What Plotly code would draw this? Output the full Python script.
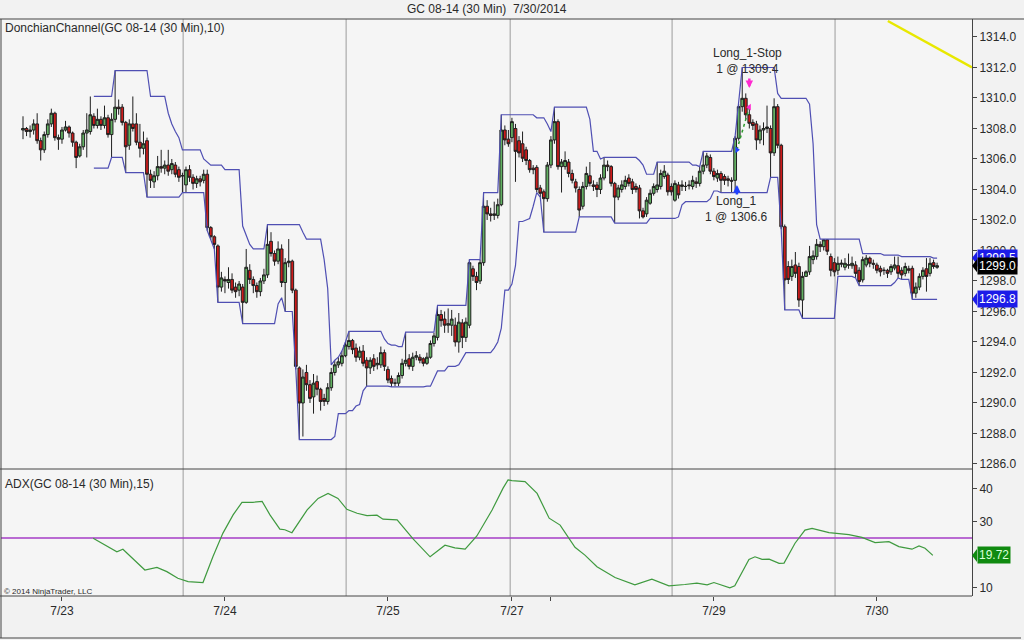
import plotly.graph_objects as go
import pandas as pd

chart_title = "GC 08-14 (30 Min)&nbsp; 7/30/2014"
price_panel_label = "DonchianChannel(GC 08-14 (30 Min),10)"
adx_panel_label = "ADX(GC 08-14 (30 Min),15)"
copyright_text = "© 2014 NinjaTrader, LLC"

# ---- 30-minute bars (index 0 = 7/22 18:30) ----
opens = [
    1307.9, 1308.0, 1307.8, 1307.9, 1308.3, 1307.2, 1306.6, 1307.6, 1308.3, 1309.0,
    1307.4, 1307.3, 1307.9, 1308.1, 1307.7, 1307.1, 1306.2, 1306.8, 1307.7, 1307.8,
    1308.8, 1308.2, 1308.6, 1308.2, 1308.7, 1307.6, 1308.6, 1309.4, 1309.4, 1308.4,
    1306.9, 1308.3, 1308.3, 1307.1, 1306.7, 1307.2, 1305.0, 1304.5, 1304.9, 1305.5,
    1305.4, 1305.6, 1305.3, 1305.6, 1305.3, 1304.9, 1304.3, 1305.3, 1304.8, 1304.4,
    1304.7, 1304.6, 1305.0, 1301.5, 1300.9, 1300.3, 1297.6, 1298.1, 1297.9, 1298.1,
    1297.6, 1297.4, 1297.6, 1296.6, 1298.7, 1298.1, 1297.7, 1297.3, 1298.0, 1298.4,
    1300.6, 1299.8, 1299.3, 1300.1, 1297.9, 1299.2, 1299.3, 1297.4, 1292.3, 1290.0,
    1292.0, 1291.2, 1290.4, 1291.4, 1290.9, 1290.3, 1290.1, 1291.0, 1292.0, 1292.5,
    1292.6, 1293.1, 1293.7, 1294.1, 1293.6, 1293.0, 1293.4, 1292.8, 1292.3, 1292.9,
    1292.5, 1292.5, 1293.3, 1292.2, 1291.6, 1291.3, 1291.3, 1291.8, 1292.6, 1292.9,
    1292.4, 1293.0, 1293.0, 1292.9, 1292.6, 1293.0, 1293.9, 1294.3, 1295.8, 1295.5,
    1295.1, 1295.1, 1295.1, 1294.0, 1295.25, 1294.3, 1295.1, 1298.8, 1298.3, 1298.0,
    1299.2, 1302.9, 1302.4, 1302.3, 1302.3, 1303.0, 1307.9, 1307.3, 1307.4, 1308.0,
    1307.2, 1307.0, 1306.6, 1305.9, 1305.4, 1305.45, 1304.1, 1303.85, 1303.4, 1305.6,
    1307.25, 1308.45, 1305.5, 1305.5, 1305.8, 1305.05, 1304.5, 1304.0, 1302.9, 1304.2,
    1304.9, 1304.3, 1304.3, 1304.0, 1304.75, 1305.6, 1305.5, 1304.4, 1303.5, 1304.0,
    1304.2, 1304.75, 1304.5, 1304.2, 1304.1, 1302.6, 1302.4, 1303.1, 1303.75, 1304.0,
    1304.2, 1304.85, 1304.95, 1304.2, 1303.3, 1304.3, 1304.2, 1304.2, 1304.3, 1304.2,
    1304.5, 1304.4, 1305.2, 1305.6, 1306.1, 1305.2, 1304.75, 1305.05, 1304.85, 1304.7,
    1304.6, 1304.6, 1307.36, 1309.43, 1309.98, 1308.9, 1308.4, 1308.3, 1307.25, 1307.9,
    1308.0, 1308.0, 1306.4, 1309.43, 1306.9, 1301.56, 1298.95, 1298.3, 1299.05, 1298.95,
    1296.75, 1298.3, 1298.6, 1299.4, 1299.6, 1300.4, 1300.25, 1300.7, 1299.6, 1299.2,
    1298.7, 1299.1, 1298.9, 1299.05, 1299.0, 1299.05, 1298.7, 1298.07, 1299.05, 1299.5,
    1299.16, 1299.05, 1298.83, 1298.7, 1298.7, 1298.6, 1298.85, 1299.0, 1298.7, 1298.5,
    1298.8, 1298.83, 1297.2, 1297.6, 1298.3, 1298.8, 1298.5, 1299.2, 1298.9,
]
highs = [
    1308.8, 1308.1, 1308.2, 1308.6, 1309.0, 1307.4, 1307.8, 1308.6, 1309.3, 1309.1,
    1307.6, 1308.1, 1308.5, 1308.2, 1307.8, 1307.2, 1307.0, 1307.9, 1309.0, 1310.1,
    1309.0, 1309.3, 1308.8, 1309.5, 1308.9, 1309.0, 1311.8, 1309.9, 1309.6, 1308.5,
    1308.6, 1310.1, 1309.0, 1308.3, 1307.8, 1307.4, 1305.3, 1305.2, 1306.2, 1306.6,
    1305.9, 1306.6, 1306.0, 1305.8, 1305.5, 1305.1, 1305.5, 1305.6, 1305.0, 1304.9,
    1304.9, 1305.3, 1305.3, 1301.6, 1301.0, 1300.4, 1298.6, 1298.3, 1298.9, 1298.5,
    1297.9, 1298.0, 1297.8, 1300.1, 1299.1, 1298.3, 1297.9, 1298.2, 1298.8, 1301.7,
    1301.2, 1300.0, 1300.6, 1300.4, 1299.5, 1300.75, 1299.4, 1297.5, 1292.4, 1292.2,
    1292.5, 1291.5, 1291.9, 1291.8, 1291.0, 1290.6, 1291.3, 1292.3, 1292.8, 1293.0,
    1293.4, 1294.0, 1294.7, 1294.2, 1293.9, 1293.7, 1293.8, 1293.0, 1293.0, 1293.2,
    1293.0, 1293.7, 1293.5, 1292.4, 1291.8, 1291.6, 1292.0, 1292.9, 1294.65, 1293.2,
    1293.3, 1293.4, 1293.2, 1293.0, 1293.3, 1294.1, 1294.6, 1296.4, 1296.1, 1296.0,
    1296.2, 1296.1, 1295.6, 1295.9, 1295.5, 1295.6, 1299.4, 1299.0, 1298.6, 1299.4,
    1303.8, 1303.3, 1302.8, 1303.2, 1303.4, 1308.9, 1308.2, 1307.9, 1308.7, 1308.3,
    1307.5, 1307.8, 1306.8, 1306.0, 1305.6, 1305.6, 1304.3, 1304.0, 1305.8, 1307.5,
    1309.4, 1308.6, 1306.0, 1306.5, 1306.0, 1305.3, 1304.7, 1304.2, 1304.5, 1305.5,
    1305.8, 1304.6, 1304.5, 1305.0, 1306.1, 1305.9, 1305.6, 1304.5, 1304.3, 1304.6,
    1304.9, 1305.0, 1304.7, 1304.4, 1304.3, 1302.8, 1303.5, 1304.0, 1304.4, 1305.8,
    1305.3, 1305.6, 1305.1, 1304.4, 1304.6, 1304.5, 1304.6, 1304.5, 1304.6, 1304.9,
    1304.8, 1305.5, 1306.5, 1306.4, 1306.3, 1305.4, 1305.3, 1305.2, 1305.0, 1304.9,
    1304.8, 1307.5, 1309.6, 1312.0, 1310.3, 1309.5, 1308.6, 1308.5, 1308.2, 1308.4,
    1309.5, 1308.2, 1309.98, 1309.6, 1307.0, 1301.7, 1299.3, 1299.4, 1299.9, 1299.2,
    1298.6, 1298.7, 1300.3, 1300.0, 1300.75, 1300.6, 1300.75, 1300.75, 1299.8, 1299.5,
    1299.6, 1299.4, 1299.5, 1299.8, 1299.6, 1299.3, 1298.9, 1299.6, 1299.7, 1299.6,
    1299.4, 1299.2, 1299.0, 1298.9, 1298.8, 1299.1, 1299.6, 1299.6, 1298.9, 1299.2,
    1299.0, 1299.0, 1297.9, 1298.5, 1298.9, 1299.5, 1299.5, 1299.4, 1299.2,
]
lows = [
    1307.3, 1307.5, 1307.4, 1307.6, 1307.0, 1305.9, 1306.4, 1307.4, 1308.1, 1307.2,
    1306.6, 1307.0, 1307.8, 1307.4, 1306.8, 1305.4, 1306.1, 1306.6, 1306.1, 1307.6,
    1308.0, 1308.0, 1307.9, 1308.0, 1307.4, 1306.1, 1308.4, 1308.9, 1308.2, 1305.1,
    1306.6, 1307.8, 1306.9, 1306.1, 1306.3, 1303.5, 1304.1, 1304.1, 1304.6, 1305.1,
    1305.0, 1304.9, 1305.0, 1304.8, 1304.5, 1303.8, 1303.8, 1304.5, 1304.0, 1304.1,
    1304.2, 1304.4, 1301.3, 1300.7, 1300.1, 1296.6, 1297.3, 1297.2, 1297.5, 1297.2,
    1296.9, 1297.0, 1295.2, 1296.5, 1297.8, 1297.2, 1296.9, 1297.0, 1297.8, 1298.2,
    1299.6, 1299.0, 1299.1, 1297.6, 1296.0, 1298.9, 1297.2, 1292.2, 1287.6, 1287.8,
    1290.8, 1290.0, 1289.3, 1290.5, 1289.5, 1289.8, 1289.9, 1290.8, 1291.8, 1292.3,
    1292.4, 1293.0, 1293.5, 1293.2, 1292.7, 1292.8, 1292.4, 1291.1, 1291.9, 1292.1,
    1292.2, 1292.3, 1292.1, 1291.3, 1291.05, 1291.1, 1291.1, 1291.6, 1292.4, 1292.2,
    1292.1, 1292.8, 1292.6, 1292.4, 1292.5, 1292.9, 1293.7, 1294.1, 1295.0, 1294.6,
    1294.6, 1294.4, 1293.7, 1293.3, 1293.6, 1294.0, 1294.9, 1298.0, 1297.4, 1297.8,
    1299.0, 1302.0, 1301.9, 1302.0, 1302.1, 1302.9, 1306.9, 1306.8, 1307.1, 1304.5,
    1306.1, 1305.8, 1305.6, 1305.1, 1305.0, 1303.8, 1303.5, 1301.2, 1303.2, 1305.4,
    1307.0, 1305.3, 1303.8, 1305.3, 1304.8, 1304.4, 1303.8, 1302.2, 1302.7, 1304.0,
    1304.2, 1303.9, 1303.5, 1303.7, 1304.6, 1305.2, 1304.2, 1301.8, 1303.3, 1303.8,
    1304.0, 1304.2, 1303.7, 1303.8, 1302.1, 1302.1, 1302.2, 1303.0, 1303.6, 1303.8,
    1304.0, 1304.7, 1303.6, 1303.6, 1303.2, 1303.4, 1303.9, 1303.9, 1304.0, 1304.0,
    1304.1, 1304.2, 1305.0, 1305.4, 1305.0, 1304.6, 1304.5, 1303.8, 1304.3, 1304.2,
    1303.8, 1303.8, 1307.2, 1309.1, 1308.6, 1308.0, 1307.9, 1306.6, 1307.0, 1306.9,
    1307.7, 1304.8, 1306.2, 1306.7, 1301.4, 1296.1, 1297.8, 1298.0, 1298.2, 1296.3,
    1295.55, 1298.3, 1298.4, 1299.1, 1299.4, 1299.9, 1300.0, 1299.7, 1298.3, 1298.3,
    1298.4, 1298.9, 1298.7, 1298.8, 1298.8, 1298.2, 1297.7, 1297.9, 1298.9, 1298.9,
    1298.8, 1298.5, 1298.3, 1298.4, 1298.2, 1298.4, 1298.7, 1298.2, 1298.1, 1298.3,
    1298.5, 1296.8, 1296.9, 1297.4, 1298.1, 1297.3, 1298.3, 1298.8, 1298.8,
]
closes = [
    1308.0, 1307.8, 1307.9, 1308.3, 1307.2, 1306.6, 1307.6, 1308.3, 1309.0, 1307.4,
    1307.3, 1307.9, 1308.1, 1307.7, 1307.1, 1306.1, 1306.8, 1307.7, 1307.9, 1308.9,
    1308.2, 1308.6, 1308.2, 1308.7, 1307.6, 1308.6, 1309.4, 1309.3, 1308.4, 1306.8,
    1308.3, 1308.0, 1307.1, 1306.7, 1307.0, 1305.0, 1304.6, 1304.9, 1305.5, 1305.4,
    1305.6, 1305.2, 1305.7, 1305.0, 1304.8, 1304.9, 1305.3, 1304.8, 1304.4, 1304.7,
    1304.5, 1305.0, 1301.5, 1300.9, 1300.4, 1297.6, 1298.2, 1298.0, 1298.1, 1297.4,
    1297.3, 1297.8, 1296.6, 1298.9, 1298.1, 1297.7, 1297.3, 1298.0, 1298.4, 1300.4,
    1299.8, 1299.3, 1300.1, 1297.9, 1299.2, 1299.3, 1297.4, 1292.4, 1290.0, 1291.7,
    1291.2, 1290.3, 1291.3, 1290.9, 1290.1, 1290.1, 1291.0, 1292.0, 1292.5, 1292.7,
    1293.1, 1293.8, 1294.1, 1293.5, 1293.0, 1293.4, 1292.6, 1292.3, 1292.8, 1292.4,
    1292.6, 1293.3, 1292.4, 1291.5, 1291.3, 1291.3, 1291.8, 1292.6, 1292.8, 1292.4,
    1293.0, 1293.1, 1292.8, 1292.6, 1293.0, 1293.9, 1294.4, 1295.8, 1295.4, 1295.1,
    1295.2, 1295.5, 1294.0, 1295.3, 1294.3, 1295.3, 1299.2, 1298.3, 1297.9, 1299.2,
    1302.9, 1302.4, 1302.3, 1302.4, 1303.0, 1307.9, 1307.25, 1307.0, 1308.45, 1306.5,
    1306.4, 1306.05, 1305.9, 1305.3, 1305.3, 1304.0, 1303.75, 1303.4, 1305.6, 1307.25,
    1308.45, 1305.5, 1305.8, 1305.9, 1305.05, 1304.6, 1304.1, 1302.65, 1304.2, 1305.05,
    1304.4, 1304.2, 1304.0, 1304.75, 1305.6, 1305.5, 1304.4, 1303.5, 1304.1, 1304.3,
    1304.6, 1304.4, 1304.0, 1304.0, 1302.6, 1302.2, 1303.3, 1303.75, 1304.2, 1304.3,
    1305.05, 1305.2, 1303.85, 1303.85, 1304.4, 1303.65, 1304.3, 1304.2, 1304.25, 1304.6,
    1304.4, 1305.2, 1305.6, 1306.2, 1305.2, 1304.85, 1305.05, 1304.6, 1304.6, 1304.6,
    1304.55, 1307.36, 1309.43, 1309.98, 1308.9, 1308.34, 1308.2, 1307.25, 1307.9, 1308.0,
    1308.1, 1306.4, 1309.43, 1306.9, 1301.56, 1298.07, 1298.1, 1298.95, 1298.5, 1296.75,
    1298.3, 1298.6, 1299.6, 1299.65, 1300.4, 1300.25, 1300.7, 1299.95, 1298.7, 1298.6,
    1299.16, 1299.16, 1299.16, 1299.05, 1299.16, 1298.5, 1297.96, 1299.4, 1299.5, 1299.16,
    1299.1, 1298.7, 1298.6, 1298.7, 1298.5, 1298.95, 1299.05, 1298.5, 1298.4, 1298.95,
    1298.7, 1297.2, 1297.6, 1298.3, 1298.7, 1298.3, 1299.16, 1298.95, 1299.0,
]

# ---- ADX(15) line, digitised (bar index, value) ----
adx_bars = [19.8, 23.7, 26.5, 28.2, 31.0, 34.4, 37.8, 40.6, 43.7, 46.6, 50.8, 53.6, 56.4,
            59.3, 61.8, 64.9, 67.5, 69.7, 72.5, 73.9, 75.9, 80.2, 83.3, 86.1, 88.9, 91.4,
            94.3, 97.1, 99.9, 101.6, 105.6, 110.1, 114.9, 119.1, 121.9, 124.8, 128.1, 132.4,
            135.5, 136.9, 138.0, 141.7, 145.1, 148.5, 151.6, 155.8, 158.6, 162.0, 167.1,
            172.7, 177.5, 182.3, 186.8, 190.2, 193.1, 195.0, 199.5, 200.9, 204.9, 206.6,
            208.6, 210.6, 213.4, 214.8, 217.9, 220.7, 222.7, 227.5, 233.1, 236.8, 240.5,
            244.4, 247.2, 250.9, 252.9, 254.6, 256.8]
adx_values = [24.9, 22.6, 20.8, 21.6, 18.8, 15.3, 16.1, 14.8, 12.8, 11.8, 11.5, 19.3, 26.4,
              32.0, 35.8, 35.8, 36.1, 32.0, 27.7, 27.5, 26.6, 33.5, 37.0, 38.5, 37.0, 33.7,
              32.5, 31.8, 31.9, 30.7, 30.5, 24.7, 19.3, 22.8, 22.0, 21.6, 25.6, 33.5,
              40.1, 42.6, 42.4, 42.1, 38.5, 31.0, 28.9, 22.2, 19.8, 16.3, 13.0,
              10.8, 12.5, 10.5, 10.9, 11.3, 10.8, 11.5, 9.9, 10.5, 18.5, 19.3,
              18.5, 18.6, 17.3, 17.4, 23.4, 27.4, 27.9, 26.6, 26.0, 25.2, 23.6,
              23.9, 22.4, 21.6, 22.6, 21.9, 19.72]
adx_threshold = 25

tick_bars = [11, 57, 103, 138, 149, 195, 241]
tick_labels = ["7/23", "7/24", "7/25", "7/27", "", "7/29", "7/30"]
session_break_bars = [45.2, 91.2, 137.5, 183.2, 229.2]
price_ticks = list(range(1286, 1316, 2))
adx_ticks = [10, 30, 40]

trade_bars = [201.5, 205.0]
trade_prices = [1306.6, 1309.4]
trade_names = ["Long_1", "Long_1-Stop"]

trend_bars = [244.1, 267.85]
trend_prices = [1315.05, 1312.0]

donchian_period = 10
bars_required = 20

# ---- derived series ----
bars = list(range(len(closes)))
upper = pd.Series(highs).rolling(donchian_period).max()
lower = pd.Series(lows).rolling(donchian_period).min()

# ---- page geometry ----
W, H = 1024, 640
ML, MR, MT, MB = 1, 52, 19, 44
PW, PH = W - ML - MR, H - MT - MB
SPLIT = (H - MB - 469) / PH
BAR_PX = 3.543          # horizontal pixels per bar in the reference
FIRST_BAR_PX = 23       # pixel position of bar 0


def pxx(px):
    return (px - ML) / PW


def pxy(py):
    return (H - MB - py) / PH


FONT = "Arial, 'Liberation Sans', sans-serif"
TXT = "#2a2a2a"
LINE = "#444444"

fig = go.Figure()

fig.add_trace(go.Candlestick(
    x=bars, open=opens, high=highs, low=lows, close=closes,
    increasing=dict(line=dict(color="#1f1f1f", width=1), fillcolor="#63b163"),
    decreasing=dict(line=dict(color="#1f1f1f", width=1), fillcolor="#cc1b1b"),
    whiskerwidth=0, showlegend=False, hoverinfo="skip", xaxis="x", yaxis="y",
))

chan_color = "#4f4fb3"
fig.add_trace(go.Scatter(x=bars[bars_required:], y=upper[bars_required:].tolist(),
                         mode="lines", line=dict(color=chan_color, width=1.2),
                         showlegend=False, hoverinfo="skip", xaxis="x", yaxis="y"))
fig.add_trace(go.Scatter(x=bars[bars_required:], y=lower[bars_required:].tolist(),
                         mode="lines", line=dict(color=chan_color, width=1.2),
                         showlegend=False, hoverinfo="skip", xaxis="x", yaxis="y"))

# trade execution markers
fig.add_trace(go.Scatter(x=trade_bars, y=trade_prices, mode="lines",
                         line=dict(color="#2e9a2e", width=1.5, dash="dot"),
                         showlegend=False, hoverinfo="skip", xaxis="x", yaxis="y"))
fig.add_trace(go.Scatter(x=[trade_bars[0]], y=[trade_prices[0]], mode="markers",
                         marker=dict(symbol="triangle-right", size=6, color="#2040ff"),
                         showlegend=False, hoverinfo="skip", xaxis="x", yaxis="y"))
fig.add_trace(go.Scatter(x=[trade_bars[1]], y=[trade_prices[1]], mode="markers",
                         marker=dict(symbol="triangle-left", size=6, color="#ff2ad0"),
                         showlegend=False, hoverinfo="skip", xaxis="x", yaxis="y"))

fig.add_trace(go.Scatter(x=adx_bars, y=adx_values, mode="lines",
                         line=dict(color="#3f9a3f", width=1.2),
                         showlegend=False, hoverinfo="skip", xaxis="x", yaxis="y2"))

shapes = []
for b in session_break_bars:
    shapes.append(dict(type="line", xref="x", yref="paper", x0=b, x1=b, y0=0, y1=1,
                       line=dict(color="#9c9c9c", width=1), layer="below"))
shapes.append(dict(type="line", xref="paper", yref="y2", x0=0, x1=1,
                   y0=adx_threshold, y1=adx_threshold,
                   line=dict(color="#a43cc6", width=1.5), layer="below"))
shapes.append(dict(type="line", xref="x", yref="y", x0=trend_bars[0], x1=trend_bars[1],
                   y0=trend_prices[0], y1=trend_prices[1],
                   line=dict(color="#e8e800", width=2.5), layer="above"))
# frame lines
frame = [
    (pxx(0), pxy(19), pxx(1024), pxy(19)),
    (pxx(0), SPLIT, 1, SPLIT),
    (pxx(0), 0, 1, 0),
    (pxx(1), pxy(19), pxx(1), pxy(638)),
    (pxx(0), pxy(638), pxx(1021), pxy(638)),
]
for x0, y0, x1, y1 in frame:
    shapes.append(dict(type="line", xref="paper", yref="paper", x0=x0, y0=y0, x1=x1, y1=y1,
                       line=dict(color=LINE, width=1), layer="above"))

annotations = []


def value_tag(val, yref, units_per_px, text, bg, fg):
    h = 6.5 * units_per_px
    shapes.append(dict(type="path", xref="paper", yref=yref,
                       path=f"M {pxx(972)},{val} L {pxx(977)},{val + h} L {pxx(977)},{val - h} Z",
                       fillcolor=bg, line=dict(width=0), layer="above"))
    annotations.append(dict(x=pxx(977), y=val, xref="paper", yref=yref, xanchor="left",
                            yanchor="middle", text=text, showarrow=False, bgcolor=bg,
                            borderpad=1, font=dict(family=FONT, size=12, color=fg)))


price_upp = 1 / 15.25
adx_upp = 1 / 3.3
value_tag(upper.iloc[-1], "y", price_upp, f"{upper.iloc[-1]:.1f}", "#1c1ce8", "#ffffff")
value_tag(closes[-1], "y", price_upp, f"{closes[-1]:.1f}", "#000000", "#ffffff")
value_tag(lower.iloc[-1], "y", price_upp, f"{lower.iloc[-1]:.1f}", "#1c1ce8", "#ffffff")
value_tag(adx_values[-1], "y2", adx_upp, f"{adx_values[-1]:.2f}", "#108a10", "#d8ffd8")

# trade arrows and labels
annotations.append(dict(x=trade_bars[0], y=trade_prices[0] - 2.3, xref="x", yref="y",
                        text="", showarrow=True, arrowhead=2, arrowsize=0.6, arrowwidth=2.5,
                        arrowcolor="#2040ff", ax=0, ay=11))
annotations.append(dict(x=trade_bars[1], y=trade_prices[1] + 1.25, xref="x", yref="y",
                        text="", showarrow=True, arrowhead=2, arrowsize=0.6, arrowwidth=2.5,
                        arrowcolor="#ff2ad0", ax=0, ay=-11))
annotations.append(dict(x=trade_bars[0], y=trade_prices[0] - 3.85, xref="x", yref="y",
                        text=f"{trade_names[0]}<br>1 @ {trade_prices[0]:.1f}", showarrow=False,
                        font=dict(family=FONT, size=12, color=TXT)))
annotations.append(dict(x=trade_bars[1] - 0.5, y=trade_prices[1] + 3.05, xref="x", yref="y",
                        text=f"{trade_names[1]}<br>1 @ {trade_prices[1]:.1f}", showarrow=False,
                        font=dict(family=FONT, size=12, color=TXT)))

annotations.append(dict(x=pxx(3), y=pxy(28), xref="paper", yref="paper", xanchor="left",
                        yanchor="middle", text=price_panel_label, showarrow=False,
                        font=dict(family=FONT, size=12, color=TXT)))
annotations.append(dict(x=pxx(3), y=pxy(484), xref="paper", yref="paper", xanchor="left",
                        yanchor="middle", text=adx_panel_label, showarrow=False,
                        font=dict(family=FONT, size=12, color=TXT)))
annotations.append(dict(x=pxx(2), y=pxy(591), xref="paper", yref="paper", xanchor="left",
                        yanchor="middle", text=copyright_text, showarrow=False,
                        font=dict(family=FONT, size=8, color=TXT)))
annotations.append(dict(x=0.5, y=pxy(9), xref="paper", yref="paper", xanchor="center",
                        yanchor="middle", text=chart_title, showarrow=False,
                        font=dict(family=FONT, size=12, color=TXT)))

fig.update_layout(
    width=W, height=H, autosize=False,
    margin=dict(l=ML, r=MR, t=MT, b=MB, pad=0),
    paper_bgcolor="#f2f2f2", plot_bgcolor="#f5f5f5",
    font=dict(family=FONT, size=12, color=TXT),
    showlegend=False,
    boxgap=0.22, boxgroupgap=0,
    xaxis=dict(domain=[0, 1],
               range=[(ML - FIRST_BAR_PX) / BAR_PX, (W - MR - FIRST_BAR_PX) / BAR_PX],
               anchor="y2", tickvals=tick_bars, ticktext=tick_labels,
               ticks="outside", ticklen=4, tickcolor=LINE, showgrid=False, zeroline=False,
               showline=False, rangeslider=dict(visible=False),
               tickfont=dict(family=FONT, size=12, color=TXT)),
    yaxis=dict(domain=[SPLIT, 1], range=[1285.67, 1315.18], side="right", anchor="x",
               tickvals=price_ticks, tickformat=".1f", ticks="outside", ticklen=4,
               tickcolor=LINE, showgrid=False, zeroline=False, showline=True,
               linecolor=LINE, linewidth=1, tickfont=dict(family=FONT, size=12, color=TXT)),
    yaxis2=dict(domain=[0, SPLIT], range=[7.42, 45.9], side="right", anchor="x",
                tickvals=adx_ticks, ticks="outside", ticklen=4, tickcolor=LINE,
                showgrid=False, zeroline=False, showline=True, linecolor=LINE, linewidth=1,
                tickfont=dict(family=FONT, size=12, color=TXT)),
    shapes=shapes,
    annotations=annotations,
)

fig.write_html("out.html", config={"displayModeBar": False},
               post_script="document.body.style.margin='0px';")
